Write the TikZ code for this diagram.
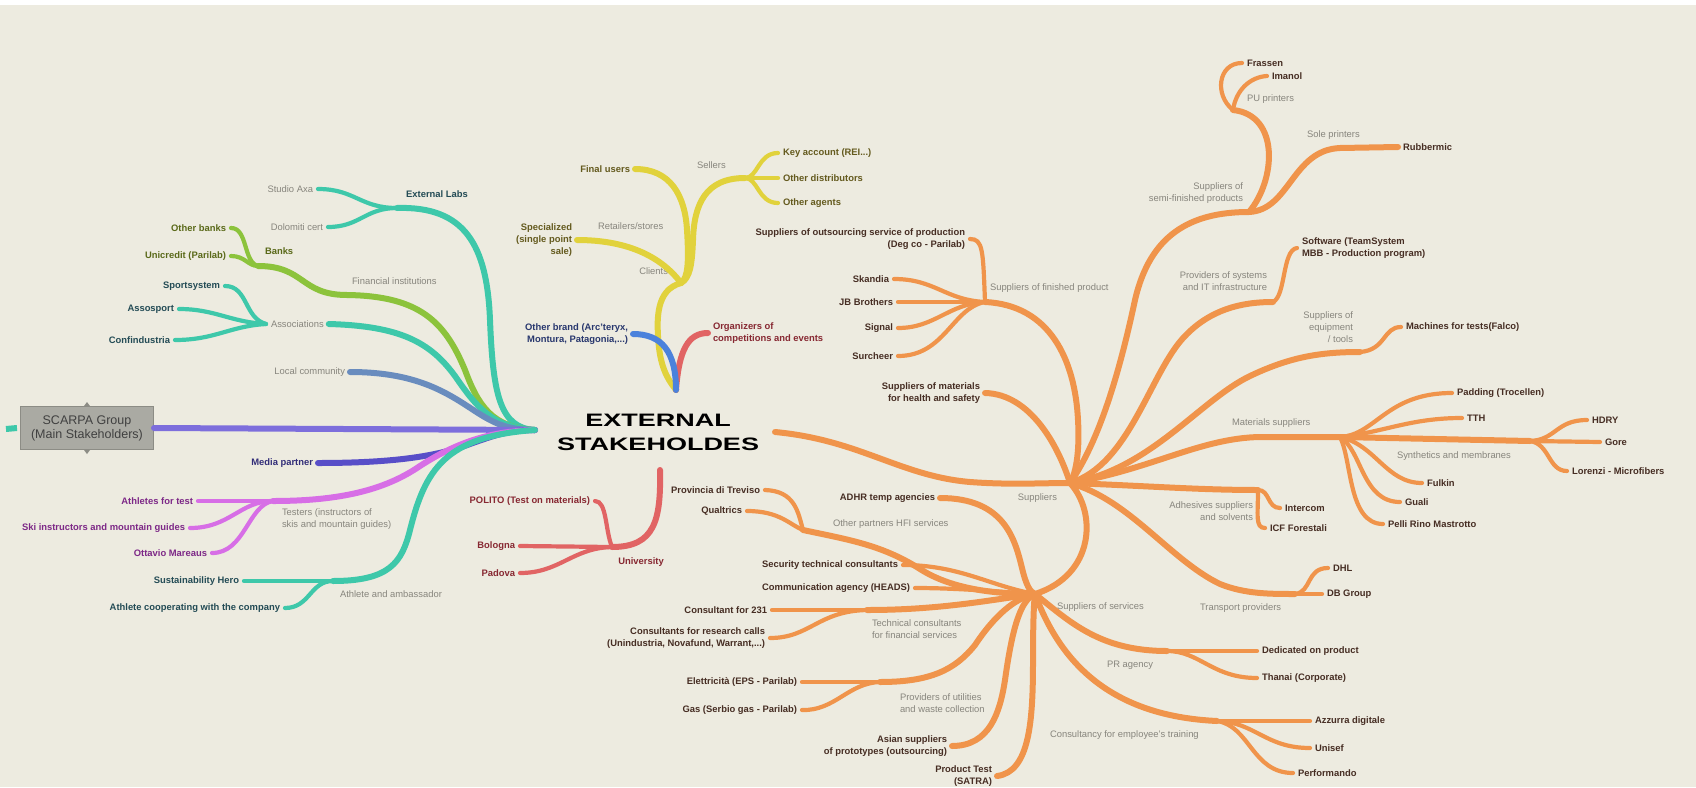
\documentclass[tikz,border=0pt]{standalone}
\usepackage{fontspec}
\setmainfont{Liberation Sans}
\definecolor{paper}{RGB}{237,235,224}
\definecolor{catgray}{RGB}{135,133,125}
\definecolor{teal}{RGB}{62,200,170}
\definecolor{green}{RGB}{140,195,60}
\definecolor{bluegray}{RGB}{105,140,190}
\definecolor{violet}{RGB}{125,110,220}
\definecolor{indigo}{RGB}{88,78,200}
\definecolor{pink}{RGB}{215,110,230}
\definecolor{yellow}{RGB}{225,210,60}
\definecolor{blue}{RGB}{75,130,220}
\definecolor{red}{RGB}{225,100,100}
\definecolor{orng}{RGB}{240,148,75}
\definecolor{tealtxt}{RGB}{35,75,85}
\definecolor{greentxt}{RGB}{90,105,25}
\definecolor{indigotxt}{RGB}{50,45,120}
\definecolor{pinktxt}{RGB}{125,40,135}
\definecolor{yellowtxt}{RGB}{100,90,30}
\definecolor{bluetxt}{RGB}{40,55,110}
\definecolor{redtxt}{RGB}{135,40,50}
\definecolor{orngtxt}{RGB}{70,45,35}
\definecolor{boxfill}{RGB}{170,170,163}
\definecolor{boxline}{RGB}{140,140,133}
\tikzset{lbl/.style = {font=\fontsize{9.4}{12}\selectfont\bfseries, inner sep=0pt, outer xsep=5pt}}
\tikzset{cat/.style = {font=\fontsize{9.4}{12}\selectfont, text=catgray, inner sep=0pt, outer xsep=5pt}}
\tikzset{leaf/.style = {line width=4.2pt, line cap=round}}
\tikzset{limb/.style = {line width=6pt, line cap=round}}
\tikzset{headline/.style = {font=\fontsize{18}{24}\selectfont\bfseries, align=center, inner sep=0pt}}
\tikzset{mainbox/.style = {draw=boxline, fill=boxfill, text={black!75}, line width=1pt, minimum width=133pt, minimum height=43pt, align=center, font=\fontsize{12.5}{14}\selectfont, inner sep=2pt}}

\begin{document}
\begin{tikzpicture}[x=1pt, y=-1pt]
  \useasboundingbox (0,0) rectangle (1696,787);
  \fill[paper] (0,0) rectangle (1696,787);
  \fill[white] (0,0) rectangle (1696,5);

  \coordinate (hubL) at (535,430);
  \coordinate (hubR) at (775,432);
  \coordinate (hubT) at (676,390);
  \coordinate (hubB) at (660,470);

  \node [headline] (title) at (658,432) {\scalebox{1.5}[1]{EXTERNAL}\\\scalebox{1.5}[1]{STAKEHOLDES}};

  % left side
  \node [mainbox] (scarpa) at (87,428) {SCARPA Group\\(Main Stakeholders)};
  \coordinate (stub) at (6,429);
  \fill[boxline] ([xshift=-3pt]scarpa.north) -- ([yshift=4pt]scarpa.north) -- ([xshift=3pt]scarpa.north) -- cycle;
  \fill[boxline] ([xshift=-3pt]scarpa.south) -- ([yshift=-4pt]scarpa.south) -- ([xshift=3pt]scarpa.south) -- cycle;

  \node [cat, anchor=east] (studio) at (318,189) {Studio Axa};
  \node [cat, anchor=east] (dolomiti) at (328,227) {Dolomiti cert};
  \node [lbl, text=tealtxt] (extlabs) at (437,194) {External Labs};
  \coordinate (jEL) at (397,208);

  \node [lbl, text=greentxt, anchor=east] (otherbanks) at (231,228) {Other banks};
  \node [lbl, text=greentxt, anchor=east] (unicredit) at (231,256) {Unicredit (Parilab)};
  \node [lbl, text=greentxt, anchor=west] (banks) at (260,251) {Banks};
  \coordinate (jBk) at (258,266);
  \node [cat, anchor=west] (finst) at (347,281) {Financial institutions};
  \coordinate (jFI) at (347,295);

  \node [lbl, text=tealtxt, anchor=east] (sports) at (225,286) {Sportsystem};
  \node [lbl, text=tealtxt, anchor=east] (assosport) at (179,309) {Assosport};
  \node [lbl, text=tealtxt, anchor=east] (confind) at (175,340) {Confindustria};
  \node [cat, anchor=west] (assoc) at (266,324) {Associations};

  \node [cat, anchor=east] (localcom) at (350,372) {Local community};
  \node [lbl, text=indigotxt, anchor=east] (mediap) at (318,463) {Media partner};

  \node [lbl, text=pinktxt, anchor=east] (athtest) at (198,501) {Athletes for test};
  \node [lbl, text=pinktxt, anchor=east] (skiinst) at (190,528) {Ski instructors and mountain guides};
  \node [lbl, text=pinktxt, anchor=east] (ottavio) at (212,553) {Ottavio Mareaus};
  \coordinate (jTe) at (273,501);
  \node [cat, anchor=north west, align=left, outer sep=0pt] (testers) at (282,509) {Testers (instructors of\\skis and mountain guides)};

  \node [lbl, text=tealtxt, anchor=east] (sustain) at (244,581) {Sustainability Hero};
  \node [lbl, text=tealtxt, anchor=east] (athcoop) at (285,608) {Athlete cooperating with the company};
  \coordinate (jAA) at (333,581);
  \node [cat, anchor=west] (ambass) at (335,594) {Athlete and ambassador};

  \draw[leaf, teal] (studio.east) .. controls (355,189) and (360,208) .. (jEL);
  \draw[leaf, teal] (dolomiti.east) .. controls (360,227) and (365,208) .. (jEL);
  \draw[limb, teal] (jEL) .. controls (465,206) and (487,245) .. (490,320) .. controls (493,395) and (500,428) .. (hubL);

  \draw[leaf, green] (otherbanks.east) .. controls (248,228) and (243,262) .. (jBk);
  \draw[leaf, green] (unicredit.east) .. controls (245,256) and (248,266) .. (jBk);
  \draw[limb, green] (jBk) .. controls (305,266) and (300,295) .. (jFI) .. controls (420,296) and (445,322) .. (465,370) .. controls (478,405) and (492,428) .. (hubL);

  \draw[leaf, teal] (sports.east) .. controls (248,286) and (244,318) .. (assoc.west);
  \draw[leaf, teal] (assosport.east) .. controls (215,309) and (230,322) .. (assoc.west);
  \draw[leaf, teal] (confind.east) .. controls (215,340) and (230,326) .. (assoc.west);
  \draw[limb, teal] (assoc.east) .. controls (400,326) and (430,342) .. (455,376) .. controls (475,405) and (492,428) .. (hubL);

  \draw[limb, bluegray] (localcom.east) .. controls (420,372) and (450,395) .. (478,413) .. controls (497,425) and (510,430) .. (hubL);

  \draw[limb, violet] (scarpa.east) -- (hubL);
  \draw[limb, teal, line cap=butt] (stub) -- ([xshift=-3pt]scarpa.west);

  \draw[limb, indigo] (mediap.east) .. controls (400,463) and (440,455) .. (470,444) .. controls (495,435) and (510,430) .. (hubL);

  \draw[leaf, pink] (athtest.east) -- (jTe);
  \draw[leaf, pink] (skiinst.east) .. controls (230,528) and (240,501) .. (jTe);
  \draw[leaf, pink] (ottavio.east) .. controls (245,553) and (248,505) .. (jTe);
  \draw[limb, pink] (jTe) .. controls (340,501) and (385,490) .. (420,466) .. controls (460,440) and (495,431) .. (hubL);

  \draw[leaf, teal] (sustain.east) -- (jAA);
  \draw[leaf, teal] (athcoop.east) .. controls (310,608) and (310,581) .. (jAA);
  \draw[limb, teal] (jAA) .. controls (390,581) and (402,562) .. (410,530) .. controls (425,470) and (445,436) .. (hubL);

  % top
  \node [lbl, text=yellowtxt, anchor=east] (finalu) at (635,169) {Final users};
  \node [cat, anchor=west] (sellers) at (692,165) {Sellers};
  \node [lbl, text=yellowtxt, anchor=west] (keyacc) at (778,153) {Key account (REI...)};
  \node [lbl, text=yellowtxt, anchor=west] (otherdist) at (778,178) {Other distributors};
  \node [lbl, text=yellowtxt, anchor=west] (otheragents) at (778,203) {Other agents};
  \coordinate (jSe) at (745,178);
  \node [lbl, text=yellowtxt, anchor=east, align=right] (special) at (577,240) {Specialized\\(single point\\sale)};
  \node [cat, anchor=west] (retail) at (593,226) {Retailers/stores};
  \node [cat, anchor=east] (clients) at (673,271) {Clients};
  \coordinate (jCl) at (681,283);
  \node [lbl, text=bluetxt, anchor=east, align=right] (otherbrand) at (633,334) {Other brand (Arc'teryx,\\Montura, Patagonia,...)};
  \node [lbl, text=redtxt, anchor=west, align=left] (organizers) at (708,333) {Organizers of\\competitions and events};

  \draw[leaf, yellow] (keyacc.west) .. controls (758,153) and (758,178) .. (jSe);
  \draw[leaf, yellow] (otherdist.west) -- (jSe);
  \draw[leaf, yellow] (otheragents.west) .. controls (758,203) and (758,178) .. (jSe);
  \draw[limb, yellow] (jSe) .. controls (705,178) and (694,205) .. (693,240) .. controls (692,265) and (690,278) .. (jCl);
  \draw[limb, yellow] (finalu.east) .. controls (670,169) and (685,195) .. (687,230) .. controls (689,262) and (688,278) .. (jCl);
  \draw[limb, yellow] (special.east) .. controls (625,240) and (660,255) .. (jCl);
  \draw[limb, yellow] (jCl) .. controls (656,290) and (656,318) .. (659,348) .. controls (662,372) and (670,382) .. (hubT);
  \draw[limb, red] (organizers.west) .. controls (688,333) and (679,350) .. (hubT);
  \draw[limb, blue] (otherbrand.east) .. controls (662,334) and (676,352) .. (hubT);

  % university
  \node [lbl, text=redtxt] (university) at (641,562) {University};
  \node [lbl, text=redtxt, anchor=east] (polito) at (595,501) {POLITO (Test on materials)};
  \node [lbl, text=redtxt, anchor=east] (bologna) at (520,546) {Bologna};
  \node [lbl, text=redtxt, anchor=east] (padova) at (520,573) {Padova};
  \coordinate (jUn) at (612,547);

  \draw[limb, red] (hubB) .. controls (661,520) and (655,547) .. (jUn);
  \draw[leaf, red] (polito.east) .. controls (607,501) and (605,530) .. (jUn);
  \draw[leaf, red] (bologna.east) -- (jUn);
  \draw[leaf, red] (padova.east) .. controls (560,573) and (572,548) .. (jUn);

  % right side
  \node [cat, anchor=east] (suppl) at (1062,498) {Suppliers};
  \coordinate (jSu) at (1070,483);

  \node [lbl, text=orngtxt, anchor=east, align=right] (outsrc) at (970,239) {Suppliers of outsourcing service of production\\(Deg co - Parilab)};
  \node [lbl, text=orngtxt, anchor=east] (skandia) at (894,279) {Skandia};
  \node [lbl, text=orngtxt, anchor=east] (jb) at (898,302) {JB Brothers};
  \node [lbl, text=orngtxt, anchor=east] (signal) at (898,328) {Signal};
  \node [lbl, text=orngtxt, anchor=east] (surcheer) at (898,356) {Surcheer};
  \coordinate (jFP) at (985,302);
  \node [cat, anchor=west] (finprod) at (985,288) {Suppliers of finished product};
  \node [lbl, text=orngtxt, anchor=east, align=right] (health) at (985,393) {Suppliers of materials\\for health and safety};

  \node [cat, anchor=east, align=right] (semifin) at (1248,193) {Suppliers of\\semi-finished products};
  \coordinate (jSF) at (1249,212);
  \node [cat, anchor=west] (pupr) at (1242,99) {PU printers};
  \coordinate (jPU) at (1233,110);
  \node [lbl, text=orngtxt, anchor=west] (frassen) at (1242,63) {Frassen};
  \node [lbl, text=orngtxt, anchor=west] (imanol) at (1267,76) {Imanol};
  \node [cat, anchor=west] (solepr) at (1302,135) {Sole printers};
  \node [lbl, text=orngtxt, anchor=west] (rubber) at (1398,147) {Rubbermic};

  \node [cat, anchor=east, align=right] (itprov) at (1272,281) {Providers of systems\\and IT infrastructure};
  \coordinate (jIT) at (1273,302);
  \node [lbl, text=orngtxt, anchor=west, align=left] (software) at (1297,248) {Software (TeamSystem\\MBB - Production program)};

  \node [cat, anchor=east, align=right] (equip) at (1358,327) {Suppliers of\\equipment\\/ tools};
  \coordinate (jEq) at (1360,352);
  \node [lbl, text=orngtxt, anchor=west] (machines) at (1401,327) {Machines for tests(Falco)};

  \node [cat, anchor=west] (matsup) at (1227,423) {Materials suppliers};
  \coordinate (jMa) at (1340,437);
  \node [lbl, text=orngtxt, anchor=west] (padding) at (1452,393) {Padding (Trocellen)};
  \node [lbl, text=orngtxt, anchor=west] (tth) at (1462,418) {TTH};
  \node [cat, anchor=west] (synth) at (1392,456) {Synthetics and membranes};
  \coordinate (jSy) at (1530,441);
  \node [lbl, text=orngtxt, anchor=west] (hdry) at (1587,420) {HDRY};
  \node [lbl, text=orngtxt, anchor=west] (gore) at (1600,442) {Gore};
  \node [lbl, text=orngtxt, anchor=west] (lorenzi) at (1567,471) {Lorenzi - Microfibers};
  \node [lbl, text=orngtxt, anchor=west] (fulkin) at (1422,483) {Fulkin};
  \node [lbl, text=orngtxt, anchor=west] (guali) at (1400,502) {Guali};
  \node [lbl, text=orngtxt, anchor=west] (pelli) at (1383,524) {Pelli Rino Mastrotto};

  \node [cat, anchor=east, align=right] (adhes) at (1258,511) {Adhesives suppliers\\and solvents};
  \coordinate (jAd) at (1258,490);
  \node [lbl, text=orngtxt, anchor=west] (intercom) at (1280,508) {Intercom};
  \node [lbl, text=orngtxt, anchor=west] (icf) at (1265,528) {ICF Forestali};

  \node [cat, anchor=west] (transp) at (1195,608) {Transport providers};
  \coordinate (jTp) at (1295,594);
  \node [lbl, text=orngtxt, anchor=west] (dhl) at (1328,568) {DHL};
  \node [lbl, text=orngtxt, anchor=west] (dbgroup) at (1322,594) {DB Group};

  \node [cat, anchor=west] (servs) at (1052,607) {Suppliers of services};
  \coordinate (jSv) at (1035,594);
  \node [lbl, text=orngtxt, anchor=east] (adhr) at (940,498) {ADHR temp agencies};
  \node [lbl, text=orngtxt, anchor=east] (provtv) at (765,490) {Provincia di Treviso};
  \node [lbl, text=orngtxt, anchor=east] (qualtr) at (747,511) {Qualtrics};
  \coordinate (jOP) at (803,530);
  \node [cat, anchor=west] (othpart) at (828,524) {Other partners HFI services};
  \node [lbl, text=orngtxt, anchor=east] (security) at (903,565) {Security technical consultants};
  \node [lbl, text=orngtxt, anchor=east] (commag) at (915,588) {Communication agency (HEADS)};
  \node [lbl, text=orngtxt, anchor=east] (cons231) at (772,610) {Consultant for 231};
  \node [lbl, text=orngtxt, anchor=east, align=right] (research) at (770,638) {Consultants for research calls\\(Unindustria, Novafund, Warrant,...)};
  \coordinate (jTC) at (867,610);
  \node [cat, anchor=west, align=left] (techcons) at (867,629) {Technical consultants\\for financial services};
  \node [lbl, text=orngtxt, anchor=east] (elettr) at (802,682) {Elettricità (EPS - Parilab)};
  \node [lbl, text=orngtxt, anchor=east] (gas) at (802,710) {Gas (Serbio gas - Parilab)};
  \coordinate (jUt) at (880,682);
  \node [cat, anchor=west, align=left] (utilities) at (895,703) {Providers of utilities\\and waste collection};
  \node [lbl, text=orngtxt, anchor=east, align=right] (asian) at (952,746) {Asian suppliers\\of prototypes (outsourcing)};
  \node [lbl, text=orngtxt, anchor=east, align=right] (satra) at (997,776) {Product Test\\(SATRA)};
  \node [cat, anchor=west] (prag) at (1102,665) {PR agency};
  \coordinate (jPR) at (1167,651);
  \node [lbl, text=orngtxt, anchor=west] (dedic) at (1257,651) {Dedicated on product};
  \node [lbl, text=orngtxt, anchor=west] (thanai) at (1257,678) {Thanai (Corporate)};
  \node [cat, anchor=west] (training) at (1045,735) {Consultancy for employee's training};
  \coordinate (jEt) at (1217,721);
  \node [lbl, text=orngtxt, anchor=west] (azzurra) at (1310,721) {Azzurra digitale};
  \node [lbl, text=orngtxt, anchor=west] (unisef) at (1310,748) {Unisef};
  \node [lbl, text=orngtxt, anchor=west] (perf) at (1293,773) {Performando};

  \draw[limb, orng] (hubR) .. controls (860,440) and (900,476) .. (970,482) .. controls (1010,485) and (1040,483) .. (jSu);

  \draw[leaf, orng] (outsrc.east) .. controls (983,239) and (983,250) .. (jFP);
  \draw[leaf, orng] (skandia.east) .. controls (935,279) and (945,300) .. (jFP);
  \draw[leaf, orng] (jb.east) -- (jFP);
  \draw[leaf, orng] (signal.east) .. controls (935,328) and (948,304) .. (jFP);
  \draw[leaf, orng] (surcheer.east) .. controls (945,356) and (952,308) .. (jFP);
  \draw[limb, orng] (jFP) .. controls (1050,305) and (1075,360) .. (1078,420) .. controls (1080,455) and (1075,475) .. (jSu);
  \draw[limb, orng] (health.east) .. controls (1030,394) and (1058,445) .. (jSu);

  \draw[limb, orng] (jSu) .. controls (1100,440) and (1120,370) .. (1135,300) .. controls (1150,235) and (1190,212) .. (jSF);
  \draw[limb, orng] (jSF) .. controls (1276,180) and (1280,115) .. (jPU);
  \draw[leaf, orng] (jPU) .. controls (1214,95) and (1218,63) .. (frassen.west);
  \draw[leaf, orng] (jPU) .. controls (1236,90) and (1250,77) .. (imanol.west);
  \draw[limb, orng] (jSF) .. controls (1290,210) and (1292,150) .. (1340,148) -- (rubber.west);

  \draw[limb, orng] (jSu) .. controls (1130,465) and (1150,372) .. (1185,336) .. controls (1210,310) and (1240,302) .. (jIT);
  \draw[leaf, orng] (jIT) .. controls (1286,296) and (1282,250) .. (software.west);

  \draw[limb, orng] (jSu) .. controls (1150,470) and (1200,400) .. (1250,376) .. controls (1290,357) and (1320,352) .. (jEq);
  \draw[leaf, orng] (jEq) .. controls (1386,350) and (1383,327) .. (machines.west);

  \draw[limb, orng] (jSu) .. controls (1150,470) and (1200,438) .. (1260,437) -- (jMa);
  \draw[leaf, orng] (jMa) .. controls (1376,435) and (1386,393) .. (padding.west);
  \draw[leaf, orng] (jMa) .. controls (1385,432) and (1410,418) .. (tth.west);
  \draw[limb, orng] (jMa) -- (jSy);
  \draw[leaf, orng] (jSy) .. controls (1556,440) and (1556,420) .. (hdry.west);
  \draw[leaf, orng] (jSy) -- (gore.west);
  \draw[leaf, orng] (jSy) .. controls (1550,444) and (1548,471) .. (lorenzi.west);
  \draw[leaf, orng] (jMa) .. controls (1376,445) and (1386,483) .. (fulkin.west);
  \draw[leaf, orng] (jMa) .. controls (1362,450) and (1362,502) .. (guali.west);
  \draw[leaf, orng] (jMa) .. controls (1352,460) and (1348,524) .. (pelli.west);

  \draw[limb, orng] (jSu) .. controls (1150,486) and (1200,490) .. (jAd);
  \draw[leaf, orng] (jAd) .. controls (1270,490) and (1267,508) .. (intercom.west);
  \draw[leaf, orng] (jAd) .. controls (1258,515) and (1255,528) .. (icf.west);

  \draw[limb, orng] (jSu) .. controls (1130,500) and (1170,560) .. (1220,584) .. controls (1245,594) and (1270,594) .. (jTp);
  \draw[leaf, orng] (jTp) .. controls (1312,592) and (1306,568) .. (dhl.west);
  \draw[leaf, orng] (jTp) -- (dbgroup.west);

  \draw[limb, orng] (jSu) .. controls (1097,512) and (1095,575) .. (jSv);
  \draw[limb, orng] (adhr.east) .. controls (1005,498) and (1015,540) .. (1022,568) .. controls (1026,585) and (1030,592) .. (jSv);
  \draw[leaf, orng] (provtv.east) .. controls (795,491) and (798,512) .. (jOP);
  \draw[leaf, orng] (qualtr.east) .. controls (780,511) and (790,525) .. (jOP);
  \draw[limb, orng] (jOP) .. controls (850,540) and (882,545) .. (920,569) .. controls (950,588) and (990,594) .. (jSv);
  \draw[leaf, orng] (security.east) .. controls (960,565) and (990,586) .. (jSv);
  \draw[leaf, orng] (commag.east) .. controls (960,588) and (1000,592) .. (jSv);
  \draw[leaf, orng] (cons231.east) -- (jTC);
  \draw[leaf, orng] (research.east) .. controls (810,638) and (818,611) .. (jTC);
  \draw[limb, orng] (jTC) .. controls (940,610) and (990,600) .. (jSv);
  \draw[leaf, orng] (elettr.east) -- (jUt);
  \draw[leaf, orng] (gas.east) .. controls (835,711) and (848,683) .. (jUt);
  \draw[limb, orng] (jUt) .. controls (930,682) and (955,670) .. (975,645) .. controls (995,615) and (1015,598) .. (jSv);
  \draw[limb, orng] (asian.east) .. controls (990,746) and (1000,712) .. (1005,680) .. controls (1012,630) and (1020,600) .. (jSv);
  \draw[limb, orng] (satra.east) .. controls (1030,772) and (1033,720) .. (1033,660) .. controls (1033,620) and (1034,600) .. (jSv);
  \draw[limb, orng] (jSv) .. controls (1070,622) and (1100,651) .. (jPR);
  \draw[leaf, orng] (jPR) -- (dedic.west);
  \draw[leaf, orng] (jPR) .. controls (1200,651) and (1212,678) .. (thanai.west);
  \draw[limb, orng] (jSv) .. controls (1060,662) and (1110,716) .. (jEt);
  \draw[leaf, orng] (jEt) -- (azzurra.west);
  \draw[leaf, orng] (jEt) .. controls (1255,722) and (1265,748) .. (unisef.west);
  \draw[leaf, orng] (jEt) .. controls (1250,726) and (1252,773) .. (perf.west);
\end{tikzpicture}
\end{document}
